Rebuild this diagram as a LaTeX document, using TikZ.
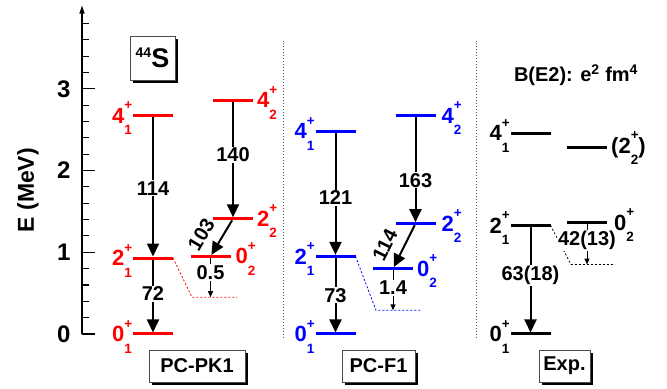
\documentclass[tikz,border=0pt]{standalone}
\usepackage{fontspec}
\setmainfont{Liberation Sans}
\usetikzlibrary{arrows.meta,shadows}
\definecolor{pkrojo}{HTML}{FF0000}
\definecolor{fazul}{HTML}{0000FF}
\definecolor{gris}{HTML}{555555}
\newcommand{\fs}[1]{\fontsize{#1}{#1}\selectfont\bfseries}
\newcommand{\levsm}{\fontsize{13.5}{13.5}\selectfont}
\newcommand{\lev}[3]{#1\smash{\rlap{\raisebox{13.5pt}{\levsm #2}}\raisebox{-11.5pt}{\levsm #3}}}
\tikzset{
  nivel/.style={minimum width=40pt,minimum height=3pt,inner sep=0pt,outer sep=0pt,fill=black},
  nivelpk/.style={nivel,fill=pkrojo},
  nivelf/.style={nivel,fill=fazul},
  etq/.style={font=\fs{22},inner sep=1pt},
  transicion/.style={-{Triangle[length=13pt,width=12pt]},line width=2pt},
  decae/.style={-{Triangle[length=6pt,width=5pt]},line width=1pt},
  valor/.style={font=\fs{20},fill=white,inner sep=1pt},
  valorinc/.style={font=\fs{20},inner sep=1pt},
  cola/.style={line width=0.8pt,dash pattern=on 2pt off 2pt},
  divisor/.style={gris,line width=0.8pt,dash pattern=on 1.5pt off 1.5pt},
  caja/.style={draw=black!70,fill=white,thin,font=\fs{20},minimum height=32pt,inner sep=2pt,
    drop shadow={shadow xshift=3pt,shadow yshift=-3pt,fill=black,opacity=1}},
}
\begin{document}
\begin{tikzpicture}[x=1pt,y=81.7pt]
  \useasboundingbox (0,-0.673) rectangle (667,4.088);
  \draw[line width=1.3pt,-{Triangle[length=8pt,width=5pt]}] (82,0) -- (82,4.02);
  \foreach \i in {0,...,19} \draw[line width=1.1pt] (82,\i/5) -- ++(7,0);
  \foreach \e in {0,...,3} {
    \draw[line width=1.1pt] (82,\e) -- ++(13,0);
    \node[font=\fs{24},anchor=east] (t\e) at (74,\e) {\e};
  }
  \node[font=\fs{23},rotate=90] (elab) at (28,1.76) {E (MeV)};
  \draw[divisor] (283,-0.05) -- (283,3.59);
  \draw[divisor] (476,-0.05) -- (476,3.59);

  \node[caja,minimum width=45pt,minimum height=44pt,font=\fs{27}] (nuc) at (152.5,3.378) {{\fs{14}\raisebox{10pt}{44}}S};
  \node[caja,minimum width=96pt] (pkbox) at (197,-0.392) {PC-PK1};
  \node[caja,minimum width=73pt] (fbox) at (378.5,-0.392) {PC-F1};
  \node[caja,minimum width=51pt] (exbox) at (564.5,-0.392) {Exp.};
  \node[font=\fs{20}] (be2) at (576,3.17) {B(E2): e\textsuperscript{2} fm\textsuperscript{4}};

  \node[nivelpk,label={[etq,text=pkrojo]left:{\lev{4}{+}{1}}}] (pk41) at (153,2.67) {};
  \node[nivelpk,label={[etq,text=pkrojo,label distance=3pt]right:{\lev{4}{+}{2}}}] (pk42) at (233,2.86) {};
  \node[nivelpk,label={[etq,text=pkrojo,label distance=3pt]right:{\lev{2}{+}{2}}}] (pk22) at (233,1.41) {};
  \node[nivelpk,label={[etq,text=pkrojo,label distance=4pt]right:{\lev{0}{+}{2}}}] (pk02) at (210.5,0.95) {};
  \node[nivelpk,label={[etq,text=pkrojo]left:{\lev{2}{+}{1}}}] (pk21) at (153,0.93) {};
  \node[nivelpk,label={[etq,text=pkrojo]left:{\lev{0}{+}{1}}}] (pk01) at (153,0) {};
  \draw[transicion] (pk41) -- (pk21) node[valor,pos=0.51] {114};
  \draw[transicion] (pk42) -- (pk22) node[valor,pos=0.46] {140};
  \draw[transicion] (pk22) -- (pk02) node[valorinc,pos=0.7,sloped,above=10pt] {103};
  \draw[transicion] (pk21) -- (pk01) node[valor,pos=0.47] {72};
  \coordinate (pkc) at (192,0.45);
  \coordinate (pke) at (237,0.45);
  \draw[cola,pkrojo] (pk21.east) -- (pkc) -- (pke);
  \draw[decae] (pk02) -- (pk02 |- pke) node[valor,pos=0.37] {0.5};

  \node[nivelf,label={[etq,text=fazul]left:{\lev{4}{+}{1}}}] (f41) at (335.5,2.48) {};
  \node[nivelf,label={[etq,text=fazul,label distance=5pt]right:{\lev{4}{+}{2}}}] (f42) at (415.5,2.67) {};
  \node[nivelf,label={[etq,text=fazul,label distance=5pt]right:{\lev{2}{+}{2}}}] (f22) at (415.5,1.35) {};
  \node[nivelf,label={[etq,text=fazul,label distance=3pt]right:{\lev{0}{+}{2}}}] (f02) at (393,0.80) {};
  \node[nivelf,label={[etq,text=fazul]left:{\lev{2}{+}{1}}}] (f21) at (335.5,0.95) {};
  \node[nivelf,label={[etq,text=fazul]left:{\lev{0}{+}{1}}}] (f01) at (335.5,0) {};
  \draw[transicion] (f41) -- (f21) node[valor,pos=0.53] {121};
  \draw[transicion] (f42) -- (f22) node[valor,pos=0.6] {163};
  \draw[transicion] (f22) -- (f02) node[valorinc,pos=0.66,sloped,above=9pt] {114};
  \draw[transicion] (f21) -- (f01) node[valor,pos=0.5] {73};
  \coordinate (fc) at (376,0.29);
  \coordinate (fe) at (420,0.29);
  \draw[cola,fazul] (f21.east) -- (fc) -- (fe);
  \draw[decae] (f02) -- (f02 |- fe) node[valor,pos=0.44] {1.4};

  \node[nivel,label={[etq]left:{\lev{4}{+}{1}}}] (ex41) at (530.5,2.46) {};
  \node[nivel,label={[etq,label distance=3pt]right:{(\lev{2}{+}{2})}}] (ex22) at (587,2.28) {};
  \node[nivel,label={[etq]left:{\lev{2}{+}{1}}}] (ex21) at (530.5,1.33) {};
  \node[nivel,label={[etq,label distance=6pt]right:{\lev{0}{+}{2}}}] (ex02) at (587,1.36) {};
  \node[nivel,label={[etq]left:{\lev{0}{+}{1}}}] (ex01) at (530.5,0) {};
  \draw[transicion] (ex21) -- (ex01) node[valor,pos=0.46] {63(18)};
  \coordinate (exc) at (571,0.85);
  \coordinate (exe) at (615,0.85);
  \draw[cola] (ex21.east) -- (exc) -- (exe);
  \draw[decae] (ex02) -- (ex02 |- exe) node[valor,pos=0.4] {42(13)};
\end{tikzpicture}
\end{document}
